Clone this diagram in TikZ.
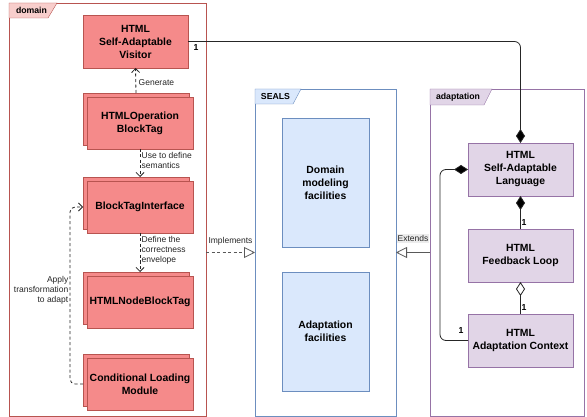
\documentclass[tikz,border=0pt]{standalone}
\usepackage{fontspec}
\setmainfont{Liberation Sans}
\usetikzlibrary{arrows.meta,positioning}
\definecolor{redfill}{RGB}{245,138,138}
\definecolor{redline}{RGB}{184,84,80}
\definecolor{redtab}{RGB}{248,206,204}
\definecolor{bluefill}{RGB}{218,232,252}
\definecolor{blueline}{RGB}{108,142,191}
\definecolor{purfill}{RGB}{225,213,231}
\definecolor{purline}{RGB}{150,115,166}
\definecolor{lblgray}{RGB}{236,236,236}
\tikzset{
  boxbase/.style={anchor=north west,inner sep=0pt,outer sep=0pt,align=center,
    font=\fontsize{10.4}{13}\selectfont\bfseries},
  redbox/.style={boxbase,draw=redline,fill=redfill,minimum width=106pt,minimum height=52pt},
  bluebox/.style={boxbase,draw=blueline,fill=bluefill,minimum width=87pt,minimum height=129pt},
  purbox/.style={boxbase,draw=purline,fill=purfill,minimum width=105pt,minimum height=53pt},
  framebox/.style={anchor=north west,inner sep=0pt,outer sep=0pt,fill=white},
  tablbl/.style={font=\fontsize{8.7}{10}\selectfont\bfseries,inner sep=0pt},
  small/.style={font=\fontsize{8.5}{10}\selectfont,inner sep=0pt,text=black!85},
  mult/.style={font=\fontsize{8.7}{10}\selectfont\bfseries,inner sep=0pt},
  dep/.style={draw=black!85,dash pattern=on 3pt off 2.5pt,line width=0.8pt,
    -{Straight Barb[length=4pt,width=8pt,line width=0.8pt]}},
  conn/.style={draw=black!85,line width=0.8pt},
  filldia/.style={-{Diamond[length=14pt,width=9pt,fill=black]}},
  opendia/.style={-{Diamond[open,length=14pt,width=9pt,fill=white]}},
  opentri/.style={-{Triangle[open,length=11pt,width=11pt,fill=white]}},
}
\begin{document}
\begin{tikzpicture}[x=1pt,y=-1pt]
\useasboundingbox (0,0) rectangle (587,417);
% frames
\node[framebox,draw=redline,minimum width=197pt,minimum height=413pt] (domain) at (9,3) {};
\fill[redtab,draw=redline] (9,3) -- (57,3) -- (48,18) -- (9,18) -- cycle;
\node[tablbl] (domainlbl) at (31.5,10.5) {domain};
\node[framebox,draw=blueline,minimum width=141pt,minimum height=327pt] (seals) at (255,89) {};
\fill[bluefill,draw=blueline] (255,89) -- (301,89) -- (293,104) -- (255,104) -- cycle;
\node[tablbl] (sealslbl) at (275.5,96.5) {SEALS};
\node[framebox,draw=purline,minimum width=154pt,minimum height=327pt] (adapt) at (430,89) {};
\fill[purfill,draw=purline] (430,89) -- (492,89) -- (484,105) -- (430,105) -- cycle;
\node[tablbl] (adaptlbl) at (458,97) {adaptation};
% domain boxes
\node[redbox,minimum width=105pt,minimum height=53pt] (vis) at (83,15) {HTML\\Self-Adaptable\\Visitor};
\node[redbox] (opB) at (83,93) {};
\node[redbox] (op) at (87,97) {HTMLOperation\\BlockTag};
\node[redbox] (btiB) at (83,177) {};
\node[redbox] (bti) at (87,181) {BlockTagInterface};
\node[redbox] (nodeB) at (83,272) {};
\node[redbox] (nbt) at (87,276) {HTMLNodeBlockTag};
\node[redbox] (clmB) at (83,354) {};
\node[redbox] (clm) at (87,358) {Conditional Loading\\Module};
% SEALS boxes
\node[bluebox] (dmf) at (282,118) {Domain\\modeling\\facilities};
\node[bluebox,minimum height=119pt] (af) at (282,272) {Adaptation\\facilities};
% adaptation boxes
\node[purbox] (lang) at (468,143) {HTML\\Self-Adaptable\\Language};
\node[purbox] (loop) at (468,229) {HTML\\Feedback Loop};
\node[purbox] (ctx) at (468,314) {HTML\\Adaptation Context};
% dependencies in domain
\draw[dep] (opB.north) -- (vis.south);
\node[small,anchor=west] (genlbl) at (138.5,83) {Generate};
\draw[dep] (op.south) -- (op.south |- btiB.north);
\node[small,anchor=west,align=left] (uselbl) at (141.5,160.5) {Use to define\\semantics};
\draw[dep] (bti.south) -- (bti.south |- nodeB.north);
\node[small,anchor=west,align=left] (deflbl) at (141.5,250) {Define the\\correctness\\envelope};
\draw[dep,rounded corners=5pt] (clmB.west |- clm.west) -- (70,384) |- (btiB.west |- bti.west);
\node[small,anchor=east,align=right] (applbl) at (68.5,290) {Apply\\transformation\\to adapt};
% implements / extends
\draw[dep,opentri,draw=black!65] (domain.east |- seals.west) -- (seals.west);
\node[small] (implbl) at (230.5,241.5) {Implements};
\draw[conn,opentri,draw=black!65] (adapt.west) -- (seals.east);
\node[small,fill=lblgray,inner sep=1pt] (extlbl) at (413,238.5) {Extends};
% compositions
\draw[conn,filldia,rounded corners=6pt] (vis.east) -| (lang.north);
\node[mult] (m1) at (196,47.5) {1};
\draw[conn,filldia] (loop.north) -- (lang.south);
\node[mult] (m2) at (524,223) {1};
\draw[conn,opendia] (ctx.north) -- (loop.south);
\node[mult] (m3) at (524,308) {1};
\draw[conn,filldia,rounded corners=6pt] (ctx.west) -- (440,340.5) |- (lang.west);
\node[mult] (m4) at (461,330.5) {1};
\end{tikzpicture}
\end{document}
